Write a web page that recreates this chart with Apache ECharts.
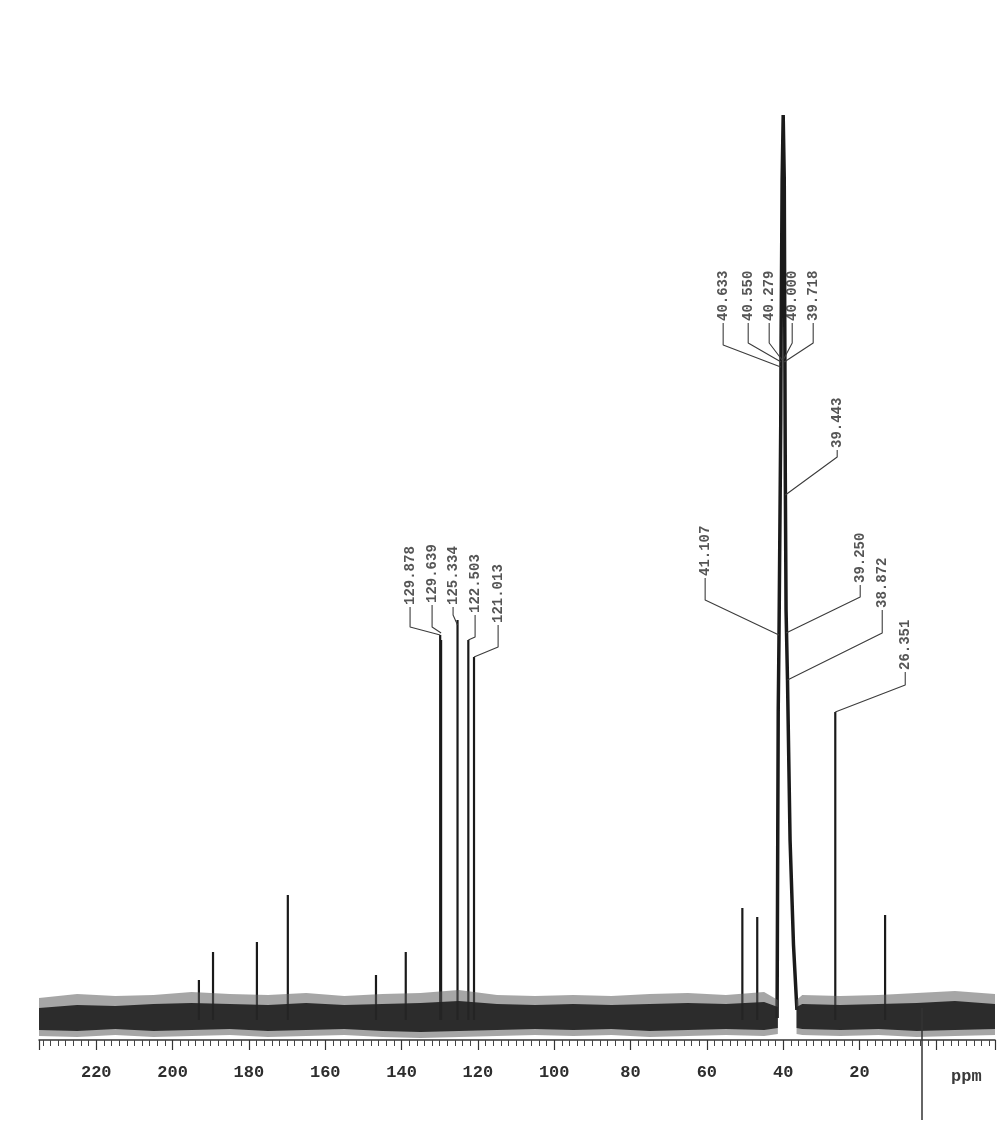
<!DOCTYPE html>
<html>
<head>
<meta charset="utf-8">
<script src="https://cdn.jsdelivr.net/npm/echarts@6/dist/echarts.min.js"></script>
<style>
  html, body { margin: 0; padding: 0; background: #ffffff; }
  #chart { width: 1002px; height: 1130px; }
</style>
</head>
<body>
<div id="chart"></div>
<script>
// 13C NMR spectrum (ppm scale, high field to the right)

// labelled tick values of the shift axis
const tickValues = [220, 200, 180, 160, 140, 120, 100, 80, 60, 40, 20];

// unlabelled signals: shift (ppm) and peak height (arbitrary units)
const signalShifts  = [193.1, 189.4, 177.9, 169.8, 146.7, 138.9, 50.7, 46.8, 13.3];
const signalHeights = [60, 88, 98, 145, 65, 88, 132, 123, 125];

// labelled sample signals
const labeledShifts  = [129.878, 129.639, 125.334, 122.503, 121.013, 26.351];
const labeledHeights = [405, 400, 420, 400, 383, 328];

// solvent multiplet profile (DMSO-d6) with its broad right shoulder
const solventShifts  = [41.6, 41.3, 41.107, 40.633, 40.550, 40.279, 40.000, 39.718, 39.443, 39.250, 38.872, 38.2, 37.3, 36.4];
const solventHeights = [22, 330, 400, 620, 700, 860, 925, 860, 560, 430, 360, 200, 95, 30];

// peak-pick annotations
const tagTexts = ['129.878', '129.639', '125.334', '122.503', '121.013',
                  '41.107', '40.633', '40.550', '40.279', '40.000', '39.718',
                  '39.443', '39.250', '38.872', '26.351'];

// baseline noise envelope sampled along the shift axis (null = no baseline drawn)
const noiseShifts    = [235, 225, 215, 205, 195, 185, 175, 165, 155, 145, 135, 125, 115, 105, 95, 85, 75, 65, 55, 45, 41.4, 39, 36.5, 35, 25, 15, 5, -5, -15.5];
const noiseOuterLow  = [4, 3, 5, 3, 4, 5, 3, 4, 5, 3, 2, 3, 4, 5, 4, 5, 3, 4, 5, 4, 6, null, 6, 5, 4, 5, 3, 4, 5];
const noiseOuterHigh = [42, 46, 44, 45, 48, 46, 45, 47, 44, 46, 47, 50, 45, 44, 45, 44, 46, 47, 45, 48, 40, null, 40, 45, 44, 45, 47, 49, 46];
const noiseCoreLow   = [10, 9, 11, 9, 10, 11, 9, 10, 11, 9, 8, 9, 10, 11, 10, 11, 9, 10, 11, 10, 12, null, 12, 11, 10, 11, 9, 10, 11];
const noiseCoreHigh  = [32, 35, 34, 36, 37, 36, 35, 37, 35, 36, 37, 39, 36, 35, 36, 35, 36, 37, 36, 38, 33, null, 33, 36, 35, 36, 37, 39, 36];

// solvent reference marker below the axis
const markerShift = 3.6;

// ---- annotation layout: label x (ppm), label foot, elbow and leader end (intensity units)
const tagLayout = [
  [137.77, 433, 413, 405],
  [132.00, 435, 413, 407],
  [126.50, 433, 425, 415],
  [120.73, 425, 403, 400],
  [114.70, 415, 393, 383],
  [60.45, 462, 440, 405],
  [55.73, 717, 695, 673],
  [49.17, 717, 697, 678],
  [43.67, 717, 697, 680],
  [37.64, 717, 697, 680],
  [32.14, 717, 697, 678],
  [25.85, 590, 583, 545],
  [19.82, 455, 443, 407],
  [14.05, 430, 407, 360],
  [8.02, 368, 355, 328]
];

const X_MIN = -15.5, X_MAX = 235;
const BASE = 20;
const INK = '#1a1a1a';
const MONO = '"Liberation Mono", "DejaVu Sans Mono", monospace';

// vertical stick for each resolved signal
const stickData = [];
const allShifts = signalShifts.concat(labeledShifts);
const allHeights = signalHeights.concat(labeledHeights);
allShifts.forEach((s, i) => {
  stickData.push([s, BASE], [s, allHeights[i]], [s, null]);
});

const solventData = solventShifts.map((s, i) => [s, solventHeights[i]]);

// leader polylines
const leaderData = [];
tagTexts.forEach((t, i) => {
  const [at, foot, elbow, end] = tagLayout[i];
  leaderData.push([at, foot], [at, elbow], [parseFloat(t), end], [at, null]);
});

const tagPoints = tagTexts.map((t, i) => ({ value: [tagLayout[i][0], tagLayout[i][1] + 2], name: t }));

// filled noise band between two envelopes, drawn through the axis scales
function bandSeries(low, high, color, opacity, z) {
  const runs = [];
  let cur = [];
  noiseShifts.forEach((s, i) => {
    if (low[i] == null) { if (cur.length) runs.push(cur); cur = []; }
    else cur.push(i);
  });
  if (cur.length) runs.push(cur);
  return {
    type: 'custom',
    silent: true,
    z: z,
    data: runs.map((r) => [noiseShifts[r[0]], low[r[0]]]),
    renderItem: (params, api) => {
      const run = runs[params.dataIndex];
      const top = run.map(i => api.coord([noiseShifts[i], high[i]]));
      const bot = run.slice().reverse().map(i => api.coord([noiseShifts[i], low[i]]));
      return {
        type: 'polygon',
        shape: { points: top.concat(bot) },
        style: { fill: color, opacity: opacity }
      };
    }
  };
}

const chart = echarts.init(document.getElementById('chart'), null, { renderer: 'canvas' });

chart.setOption({
  backgroundColor: '#ffffff',
  animation: false,
  title: {
    text: 'ppm',
    left: 951,
    top: 1068,
    padding: 0,
    textStyle: { fontFamily: MONO, fontSize: 17, fontWeight: 'bold', color: '#3a3a3a' }
  },
  grid: [
    { left: 39, right: 7, top: 115, bottom: 90 },
    { left: 39, right: 7, top: 1008, height: 112 }
  ],
  xAxis: [
    {
      type: 'value',
      gridIndex: 0,
      inverse: true,
      min: X_MIN,
      max: X_MAX,
      splitNumber: 12,
      axisLine: { show: true, onZero: false, lineStyle: { color: '#333', width: 1.5 } },
      axisTick: { show: true, length: 10, lineStyle: { color: '#333', width: 1.2 } },
      minorTick: { show: true, splitNumber: 10, length: 6, lineStyle: { color: '#444', width: 1 } },
      splitLine: { show: false },
      axisLabel: {
        margin: 24,
        fontFamily: MONO,
        fontSize: 17,
        fontWeight: 'bold',
        color: '#2e2e2e',
        formatter: v => (tickValues.indexOf(v) >= 0 ? String(v) : '')
      }
    },
    { type: 'value', gridIndex: 1, inverse: true, min: X_MIN, max: X_MAX, show: false }
  ],
  yAxis: [
    { type: 'value', gridIndex: 0, min: 0, max: 925, show: false },
    { type: 'value', gridIndex: 1, min: 0, max: 1, show: false }
  ],
  series: [
    bandSeries(noiseOuterLow, noiseOuterHigh, '#5c5c5c', 0.55, 3),
    bandSeries(noiseCoreLow, noiseCoreHigh, '#222222', 0.93, 4),
    // signals
    { type: 'line', data: stickData, symbol: 'none', connectNulls: false, lineStyle: { color: INK, width: 2.2 }, silent: true, z: 2 },
    { type: 'line', data: solventData, symbol: 'none', lineStyle: { color: INK, width: 3.5 }, silent: true, z: 2 },
    // peak-pick leaders
    { type: 'line', data: leaderData, symbol: 'none', connectNulls: false, lineStyle: { color: '#3c3c3c', width: 1.1 }, silent: true, z: 5 },
    // peak-pick labels
    {
      type: 'scatter',
      data: tagPoints,
      symbolSize: 1,
      itemStyle: { color: 'rgba(0,0,0,0)' },
      silent: true,
      z: 6,
      label: {
        show: true,
        position: 'inside',
        rotate: 90,
        align: 'left',
        verticalAlign: 'middle',
        formatter: p => p.name,
        fontFamily: MONO,
        fontSize: 14,
        fontWeight: 'bold',
        color: '#2a2a2a'
      }
    },
    // reference marker line below the axis
    {
      type: 'line',
      xAxisIndex: 1,
      yAxisIndex: 1,
      data: [],
      markLine: {
        silent: true,
        symbol: 'none',
        label: { show: false },
        lineStyle: { color: '#333', width: 1.5, type: 'solid' },
        data: [{ xAxis: markerShift }]
      }
    }
  ]
});
</script>
</body>
</html>
